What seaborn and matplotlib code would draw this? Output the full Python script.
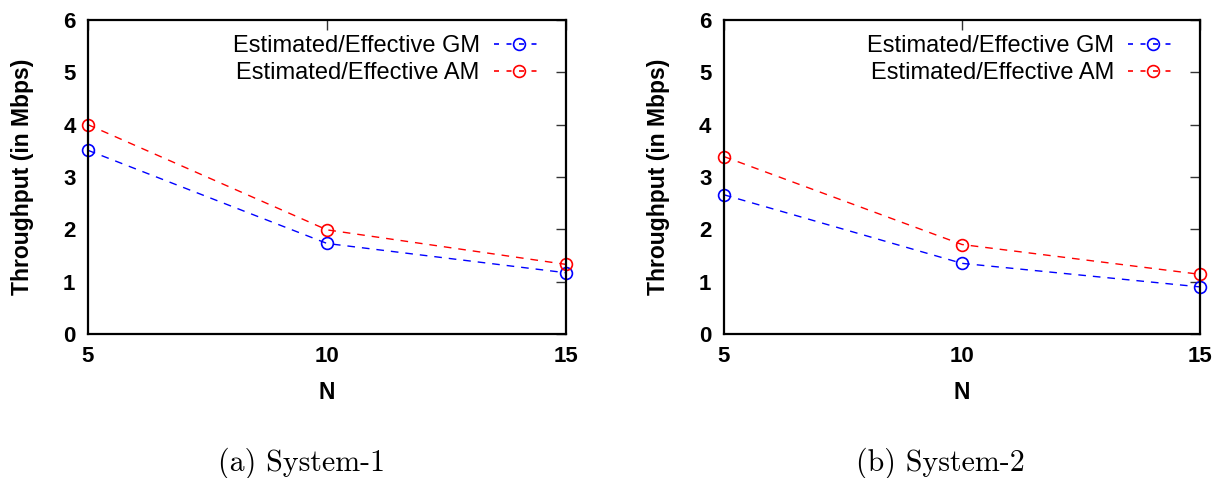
import matplotlib
matplotlib.use("Agg")
import matplotlib.pyplot as plt
from matplotlib.lines import Line2D
import seaborn as sns
import pandas as pd

N = [5, 10, 15]
sys1_gm = [3.51, 1.73, 1.17]
sys1_am = [4.00, 1.99, 1.33]
sys2_gm = [2.66, 1.35, 0.90]
sys2_am = [3.39, 1.71, 1.14]
series_names = ["Estimated/Effective GM", "Estimated/Effective AM"]
captions = ["(a) System-1", "(b) System-2"]
colors = ["#0000ff", "#ff0000"]

sns.set_theme(style="white")
plt.rcParams['font.family'] = ['Liberation Sans', 'DejaVu Sans']
plt.rcParams['text.color'] = 'black'
plt.rcParams['axes.labelcolor'] = 'black'
plt.rcParams['xtick.color'] = 'black'
plt.rcParams['ytick.color'] = 'black'

fig = plt.figure(figsize=(12.2, 4.78), dpi=100)
ax1 = fig.add_axes([88/1220, 1-334/478, (566-88)/1220, (334-20)/478])
ax2 = fig.add_axes([724/1220, 1-334/478, (1200-724)/1220, (334-20)/478])

dash = (0, (5.5, 5))
caption_x = [302/1220, 940/1220]

for i, (ax, gm, am, cap) in enumerate([(ax1, sys1_gm, sys1_am, captions[0]),
                                       (ax2, sys2_gm, sys2_am, captions[1])]):
    df = pd.DataFrame({"N": N * 2, "val": gm + am,
                       "series": [series_names[0]] * 3 + [series_names[1]] * 3})
    sns.lineplot(data=df, x="N", y="val", hue="series", palette=colors, ax=ax,
                 marker="o", markersize=8.5, markerfacecolor="none", markeredgewidth=1.2,
                 linewidth=1.0, dashes=False, clip_on=False, legend=False)
    for line, c in zip(ax.lines, colors):
        line.set_linestyle(dash)
        line.set_markeredgecolor(c)
        line.set_markerfacecolor("none")
    ax.set_xlim(5, 15)
    ax.set_ylim(0, 6)
    ax.set_xticks([5, 10, 15])
    ax.set_yticks(range(0, 7))
    ax.tick_params(direction="in", length=7, width=1, top=True, right=True,
                   labelsize=16, pad=9, color="#333333", labelcolor="black")
    for lab in ax.get_xticklabels() + ax.get_yticklabels():
        lab.set_fontweight("bold")
    ax.set_xlabel("N", fontsize=16.5, fontweight="bold", labelpad=10)
    ax.set_ylabel("Throughput (in Mbps)", fontsize=16.5, fontweight="bold", labelpad=21)
    for s in ax.spines.values():
        s.set_color("black")
        s.set_linewidth(1.6)
    handles = [Line2D([], [], color=c, linestyle=(0, (3, 4.5)), linewidth=1.2,
                      marker="o", markersize=8.5, markerfacecolor="none",
                      markeredgewidth=1.2, markeredgecolor=c) for c in colors]
    ax.legend(handles, series_names, loc="upper right", bbox_to_anchor=(0.953, 0.952),
              frameon=False, markerfirst=False,
              fontsize=17, handlelength=2.1, borderaxespad=0.0, labelspacing=0.2,
              handletextpad=0.6, borderpad=0.0)
    fig.text(caption_x[i], 1 - 471/478, cap, ha="center", va="baseline",
             fontsize=21.5, family=["cmr10", "DejaVu Serif"])

fig.savefig("out.png", dpi=100)
